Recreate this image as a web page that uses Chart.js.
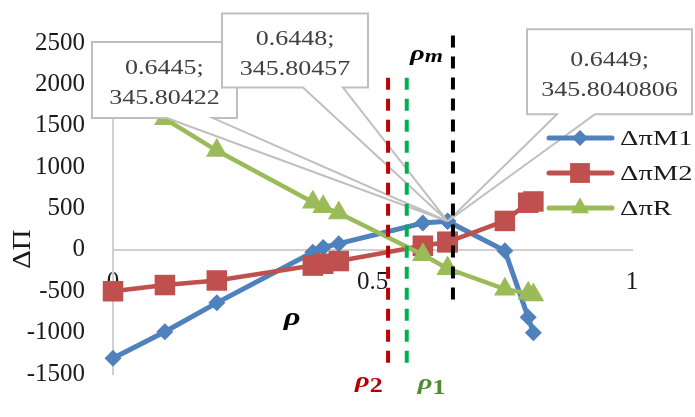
<!DOCTYPE html>
<html>
<head>
<meta charset="utf-8">
<script src="https://cdn.jsdelivr.net/npm/chart.js@4/dist/chart.umd.min.js"></script>
<style>
  html, body { margin: 0; padding: 0; background: #fff; }
  #wrap { width: 695px; height: 417px; }
</style>
</head>
<body>
<div id="wrap"><canvas id="chart"></canvas></div>
<script>
// rho values shared by the three series
const rho   = [0, 0.1, 0.2, 0.385, 0.405, 0.435, 0.597, 0.6445, 0.6448, 0.6449, 0.755, 0.80, 0.81];
const dPiM1 = [-1310, -990, -640, -30, 30, 75, 325, 345.80422, 345.80457, 345.8040806, -10, -815, -1000];
const dPiM2 = [-500, -425, -370, -190, -168, -135, 50, 95, 95, 95, 350, 570, 585];
const dPiR  = [1900, 1585, 1200, 575, 520, 445, -60, -225, -225, -225, -475, -525, -545];
const seriesNames = ['ΔπM1', 'ΔπM2', 'ΔπR'];

const xTicks = [0, 0.5, 1];
const yTicks = [-1500, -1000, -500, 0, 500, 1000, 1500, 2000, 2500];

// vertical reference lines: ρ2, ρ1, ρm
const refSub    = ['2', '1', 'm'];
const refRho    = [0.530, 0.566, 0.655];
const refTop    = [2080, 2080, 2590];
const refBottom = [-1420, -1420, -640];

// data callouts on the ΔπM1 maximum
const calloutRho   = [0.6445, 0.6448, 0.6449];
const calloutValue = ['345.80422', '345.80457', '345.8040806'];

const seriesColors  = ['#4F81BD', '#C0504D', '#9BBB59'];
const seriesMarkers = ['rectRot', 'rect', 'triangle'];
const markerRadius  = [8.5, 14.5, 12.5];
const legendRadius  = [8, 14, 10.5];
const refColors     = ['#C00000', '#00B050', '#000000'];
const refLabelColors = ['#B00000', '#4F8A2F', '#000000'];

const serif = '"Liberation Serif", "Times New Roman", serif';

function wideText(ctx, text, x, y, sx) {
  ctx.save();
  ctx.translate(x, y);
  ctx.scale(sx, 1);
  ctx.fillText(text, 0, 0);
  ctx.restore();
}

function drawRhoLabel(ctx, sub, x, y, color, subFont, dy) {
  // x = left edge, y = baseline of ρ
  ctx.fillStyle = color;
  ctx.textAlign = 'left';
  ctx.textBaseline = 'alphabetic';
  ctx.font = 'bold italic 22px ' + serif;
  const w = ctx.measureText('ρ').width * 1.3;
  wideText(ctx, 'ρ', x, y, 1.3);
  ctx.font = subFont;
  wideText(ctx, sub, x + w, y + dy, 1.3);
}

const overlay = {
  id: 'overlay',
  afterDatasetsDraw(chart) {
    const { ctx, scales: { x, y } } = chart;
    ctx.save();

    // callout boxes (left, top in data units; size in px; wedge base offsets)
    const boxes = [
      { left: -0.0405, top: 2511, w: 145, h: 76, b0: 75, b1: 121 },
      { left: 0.210,   top: 2856, w: 146, h: 74, b0: 81, b1: 121 },
      { left: 0.7977,  top: 2667, w: 165, h: 85, b0: 30, b1: 68 }
    ];
    boxes.forEach((b, i) => {
      const bx = x.getPixelForValue(b.left);
      const by = y.getPixelForValue(b.top);
      const tx = x.getPixelForValue(calloutRho[i]);
      const ty = y.getPixelForValue(dPiM1[rho.indexOf(calloutRho[i])]);
      ctx.beginPath();
      ctx.moveTo(bx, by);
      ctx.lineTo(bx + b.w, by);
      ctx.lineTo(bx + b.w, by + b.h);
      ctx.lineTo(bx + b.b1, by + b.h);
      ctx.lineTo(tx, ty);
      ctx.lineTo(bx + b.b0, by + b.h);
      ctx.lineTo(bx, by + b.h);
      ctx.closePath();
      ctx.fillStyle = '#ffffff';
      ctx.fill();
      ctx.strokeStyle = '#bfbfbf';
      ctx.lineWidth = 2;
      ctx.stroke();

      ctx.fillStyle = '#404040';
      ctx.font = '20px ' + serif;
      ctx.textAlign = 'center';
      ctx.textBaseline = 'middle';
      const cx = bx + b.w / 2, cy = by + b.h / 2;
      wideText(ctx, calloutRho[i] + ';', cx, cy - 11, 1.3);
      wideText(ctx, calloutValue[i], cx, cy + 19, 1.3);
    });

    // dashed reference lines
    ctx.lineWidth = 4;
    ctx.setLineDash([12, 9]);
    refRho.forEach((r, i) => {
      const px = x.getPixelForValue(r);
      ctx.strokeStyle = refColors[i];
      ctx.beginPath();
      ctx.moveTo(px, y.getPixelForValue(refTop[i]));
      ctx.lineTo(px, y.getPixelForValue(refBottom[i]));
      ctx.stroke();
    });
    ctx.setLineDash([]);

    // ρ labels next to the lines
    const p2 = x.getPixelForValue(refRho[0]);
    const p1 = x.getPixelForValue(refRho[1]);
    const pm = x.getPixelForValue(refRho[2]);
    drawRhoLabel(ctx, refSub[0], p2 - 33, 387, refLabelColors[0], 'bold 20px ' + serif, 5);
    drawRhoLabel(ctx, refSub[1], p1 + 11, 389, refLabelColors[1], 'bold 20px ' + serif, 5);
    drawRhoLabel(ctx, refSub[2], pm - 43, 60, refLabelColors[2], 'bold italic 18px ' + serif, 2);

    // axis titles
    ctx.fillStyle = '#000';
    ctx.font = 'bold italic 25px ' + serif;
    ctx.textAlign = 'center';
    ctx.textBaseline = 'middle';
    wideText(ctx, 'ρ', x.getPixelForValue(0.345), 319, 1.3);

    ctx.save();
    ctx.translate(23, 249);
    ctx.rotate(-Math.PI / 2);
    ctx.font = '25px ' + serif;
    ctx.fillStyle = '#1a1a1a';
    wideText(ctx, 'ΔΠ', 0, 0, 1.15);
    ctx.restore();

    // legend: line with marker, then name
    const rows = [138, 173, 208];
    seriesNames.forEach((name, i) => {
      const ly = rows[i];
      ctx.strokeStyle = seriesColors[i];
      ctx.lineWidth = 5;
      ctx.lineCap = 'round';
      ctx.beginPath();
      ctx.moveTo(549, ly);
      ctx.lineTo(612, ly);
      ctx.stroke();
      ctx.lineCap = 'butt';
      ctx.fillStyle = seriesColors[i];
      Chart.helpers.drawPoint(ctx, {
        pointStyle: seriesMarkers[i], radius: legendRadius[i], rotation: 0, borderWidth: 0
      }, 580, ly);
      ctx.fillStyle = '#1a1a1a';
      ctx.font = '22px ' + serif;
      ctx.textAlign = 'left';
      ctx.textBaseline = 'middle';
      wideText(ctx, name, 620, ly + 1, 1.3);
    });

    ctx.restore();
  }
};

new Chart(document.getElementById('chart'), {
  type: 'scatter',
  data: {
    datasets: seriesNames.map((name, i) => ({
      label: name,
      data: rho.map((r, k) => ({ x: r, y: [dPiM1, dPiM2, dPiR][i][k] })),
      showLine: true,
      borderColor: seriesColors[i],
      backgroundColor: seriesColors[i],
      borderWidth: i === 0 ? 5 : 4.5,
      pointStyle: seriesMarkers[i],
      pointRadius: markerRadius[i],
      pointBorderWidth: 0,
      tension: 0,
      order: 3 - i,
      clip: false
    }))
  },
  options: {
    responsive: true,
    maintainAspectRatio: false,
    animation: false,
    events: [],
    layout: { padding: { left: 0, top: 40, right: 63, bottom: 17 } },
    plugins: {
      legend: { display: false },
      tooltip: { enabled: false }
    },
    scales: {
      x: {
        type: 'linear',
        position: { y: 0 },
        min: xTicks[0],
        max: xTicks[xTicks.length - 1],
        afterBuildTicks: s => { s.ticks = xTicks.map(v => ({ value: v })); },
        grid: { display: false, drawTicks: false },
        border: { display: true, color: '#d0d0d0', width: 2 },
        ticks: {
          padding: 18,
          color: '#1a1a1a',
          font: { family: serif, size: 25 },
          maxRotation: 0,
          autoSkip: false,
          callback: v => String(v)
        }
      },
      y: {
        type: 'linear',
        position: 'left',
        min: yTicks[0],
        max: yTicks[yTicks.length - 1],
        afterBuildTicks: s => { s.ticks = yTicks.map(v => ({ value: v })); },
        afterFit: s => { s.width = 113; },
        grid: { display: false, drawTicks: false },
        border: { display: true, color: '#d0d0d0', width: 2 },
        ticks: {
          padding: 28,
          color: '#1a1a1a',
          font: { family: serif, size: 25 },
          autoSkip: false,
          callback: v => String(v)
        }
      }
    }
  },
  plugins: [overlay]
});
</script>
</body>
</html>
